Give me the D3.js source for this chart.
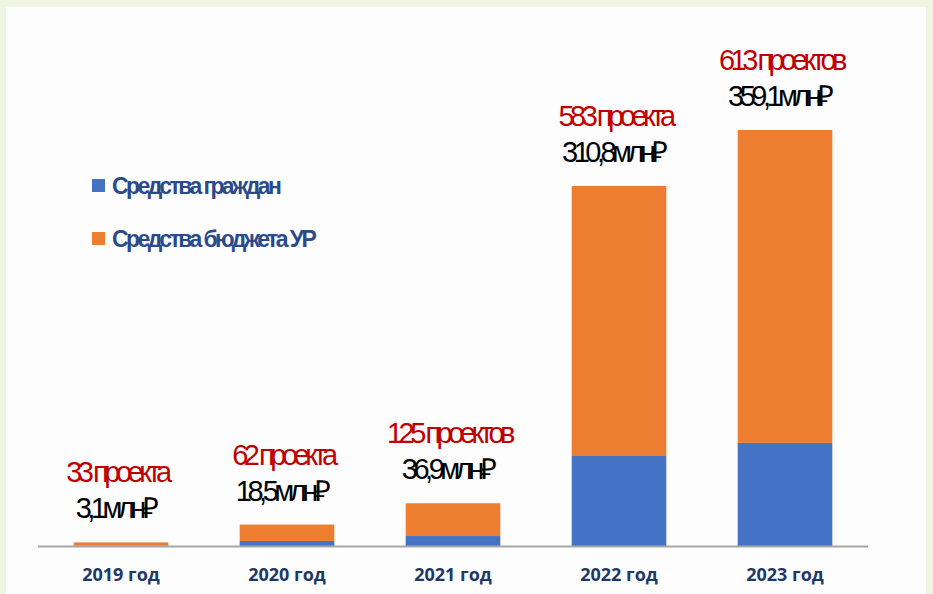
<!DOCTYPE html>
<html>
<head>
<meta charset="utf-8">
<script src="https://cdn.jsdelivr.net/npm/d3@7"></script>
<style>
  html, body { margin: 0; padding: 0; background: #eef5e2; }
  svg { display: block; }
</style>
</head>
<body>
<svg id="chart" width="933" height="594"></svg>
<script>
const years = ['2019 год', '2020 год', '2021 год', '2022 год', '2023 год'];
const citizens = [0.3, 4.3, 8.6, 77.7, 89.0];
const budget = [2.8, 14.2, 28.3, 233.1, 270.1];
const projectLabels = ['33 проекта', '62 проекта', '125 проектов', '583 проекта', '613 проектов'];
const totalLabels = ['3,1млн₽', '18,5млн₽', '36,9млн₽', '310,8млн₽', '359,1млн₽'];
const seriesNames = ['Средства граждан', 'Средства бюджета УР'];
const seriesColors = ['#4472c4', '#ed7d31'];

const svg = d3.select('#chart');

// white panel over the pale background
svg.append('rect')
  .attr('x', 6).attr('y', 7)
  .attr('width', 920).attr('height', 587)
  .attr('fill', '#fdfdfd');

const x = d3.scaleBand()
  .domain(years)
  .range([38, 868])
  .paddingInner(0.43)
  .paddingOuter(0.215);

const y = d3.scaleLinear()
  .domain([0, 359.1])
  .range([546, 130]);

const rows = years.map((yr, i) => ({
  year: yr, citizens: citizens[i], budget: budget[i],
  projects: projectLabels[i], total: totalLabels[i]
}));

const stack = d3.stack().keys(['citizens', 'budget'])(rows);

const gBars = svg.append('g');
gBars.selectAll('g.series')
  .data(stack)
  .join('g')
  .classed('series', true)
  .attr('fill', (d, i) => seriesColors[i])
  .selectAll('rect')
  .data(d => d)
  .join('rect')
  .attr('x', d => x(d.data.year))
  .attr('width', x.bandwidth())
  .attr('y', d => y(d[1]))
  .attr('height', d => y(d[0]) - y(d[1]));

// baseline
svg.append('line')
  .attr('x1', 38).attr('x2', 868)
  .attr('y1', y(0) + 0.5).attr('y2', y(0) + 0.5)
  .attr('stroke', '#a6a6a6')
  .attr('stroke-width', 2);

// x axis labels
const xAxis = svg.append('g')
  .attr('transform', `translate(0, ${y(0)})`)
  .call(d3.axisBottom(x).tickSize(0).tickPadding(22));
xAxis.select('.domain').remove();
xAxis.selectAll('text')
  .attr('fill', '#1f3864')
  .style('font-family', '"Open Sans", "Liberation Sans", sans-serif')
  .style('font-weight', 'bold')
  .style('font-size', '18px');

// annotations above bars
const gAnn = svg.append('g')
  .style('font-family', '"Liberation Sans Narrow", "Liberation Sans", Arial, sans-serif')
  .style('font-size', '29px')
  .style('letter-spacing', '-4.5px')
  .attr('text-anchor', 'middle');

gAnn.selectAll('text.total')
  .data(rows)
  .join('text')
  .classed('total', true)
  .attr('x', d => x(d.year) + x.bandwidth() / 2 - 6)
  .attr('y', d => y(d.citizens + d.budget) - 24)
  .attr('fill', '#000')
  .text(d => d.total);

gAnn.selectAll('text.projects')
  .data(rows)
  .join('text')
  .classed('projects', true)
  .attr('x', d => x(d.year) + x.bandwidth() / 2 - 4)
  .attr('y', d => y(d.citizens + d.budget) - 60)
  .attr('fill', '#c00000')
  .text(d => d.projects);

// legend
const legend = svg.append('g')
  .attr('transform', 'translate(92, 179)')
  .selectAll('g')
  .data(seriesNames)
  .join('g')
  .attr('transform', (d, i) => `translate(0, ${i * 53})`);

legend.append('rect')
  .attr('width', 13).attr('height', 13)
  .attr('fill', (d, i) => seriesColors[i]);

legend.append('text')
  .attr('x', 20).attr('y', 15)
  .attr('fill', '#2b4a8b')
  .style('font-family', '"Liberation Sans Narrow", "Liberation Sans", Arial, sans-serif')
  .style('font-size', '23px')
  .style('font-weight', 'bold')
  .style('letter-spacing', '-2.6px')
  .text(d => d);
</script>
</body>
</html>
